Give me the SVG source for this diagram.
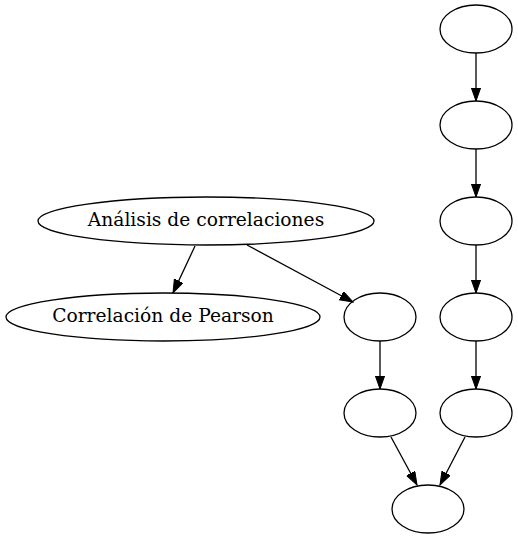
<svg xmlns="http://www.w3.org/2000/svg" width="518" height="539" viewBox="0 0 518 539">
<style>
.n ellipse{fill:none;stroke:#000;stroke-width:1.3}
.n text{font-family:"DejaVu Serif","Liberation Serif",serif;font-size:18.67px;text-anchor:middle;fill:#000}
#edges line{stroke:#000;stroke-width:1.3;marker-end:url(#ah)}
</style>
<defs>
<marker id="ah" markerUnits="userSpaceOnUse" markerWidth="14" markerHeight="10" refX="13.3" refY="4.7" orient="auto">
<path d="M0,0 L13.3,4.7 L0,9.4 Z" fill="#000" stroke="#000" stroke-width="1"/>
</marker>
</defs>
<rect width="518" height="539" fill="#fff"/>
<g id="edges">
<line x1="476" y1="53" x2="476" y2="101"/>
<line x1="476" y1="149" x2="476" y2="197"/>
<line x1="476" y1="245" x2="476" y2="293"/>
<line x1="476" y1="341" x2="476" y2="389"/>
<line x1="195" y1="246" x2="173" y2="293"/>
<line x1="247" y1="245" x2="353" y2="302"/>
<line x1="380" y1="341" x2="380" y2="389"/>
<line x1="391" y1="437" x2="417" y2="485"/>
<line x1="465" y1="437" x2="440" y2="485"/>
</g>
<g id="r1" class="n"><ellipse cx="476" cy="29" rx="36" ry="24"/></g>
<g id="r2" class="n"><ellipse cx="476" cy="125" rx="36" ry="24"/></g>
<g id="r3" class="n"><ellipse cx="476" cy="221" rx="36" ry="24"/></g>
<g id="r4" class="n"><ellipse cx="476" cy="317" rx="36" ry="24"/></g>
<g id="r5" class="n"><ellipse cx="476" cy="413" rx="36" ry="24"/></g>
<g id="analisis" class="n"><ellipse cx="206" cy="221" rx="168" ry="24"/><text x="206" y="226">Análisis de correlaciones</text></g>
<g id="pearson" class="n"><ellipse cx="163" cy="317" rx="157" ry="24"/><text x="163" y="322">Correlación de Pearson</text></g>
<g id="m1" class="n"><ellipse cx="380" cy="317" rx="36" ry="24"/></g>
<g id="m2" class="n"><ellipse cx="380" cy="413" rx="36" ry="24"/></g>
<g id="bottom" class="n"><ellipse cx="428" cy="509" rx="36" ry="24"/></g>
</svg>
